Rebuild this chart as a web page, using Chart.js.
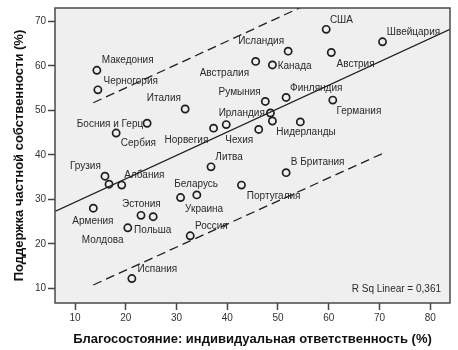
<!DOCTYPE html>
<html>
<head>
<meta charset="utf-8">
<script src="https://cdn.jsdelivr.net/npm/chart.js@4.4.1/dist/chart.umd.min.js"></script>
<style>
  body { margin: 0; background: #fff; }
  #wrap { width: 458px; height: 350px; }
</style>
</head>
<body>
<div id="wrap"><canvas id="chart" width="458" height="350"></canvas></div>
<script>
const countries = [
  "Македония", "Черногория", "Италия", "Босния и Герц", "Сербия", "Грузия", "", "Албания",
  "Армения", "Эстония", "", "Польша", "Испания", "Беларусь", "Украина", "Россия",
  "Литва", "Португалия", "В Британия", "Норвегия", "Чехия", "", "Ирландия", "",
  "Нидерланды", "Румыния", "Финляндия", "Австралия", "Канада", "Исландия", "США", "Австрия",
  "Швейцария", "Германия"
];
const wellbeing = [
  14.3, 14.5, 31.7, 24.2, 18.1, 15.9, 16.7, 19.2,
  13.6, 23.0, 25.4, 20.4, 21.2, 30.8, 34.0, 32.7,
  36.8, 42.8, 51.6, 37.3, 39.8, 46.2, 48.5, 48.9,
  54.4, 47.5, 51.6, 45.6, 48.9, 52.0, 59.5, 60.5,
  70.6, 60.8
];
const support = [
  59.0, 54.6, 50.3, 47.1, 44.9, 35.2, 33.4, 33.2,
  28.0, 26.4, 26.1, 23.6, 12.2, 30.4, 31.0, 21.8,
  37.3, 33.2, 36.0, 46.0, 46.8, 45.7, 49.4, 47.6,
  47.4, 52.0, 52.9, 61.0, 60.2, 63.3, 68.2, 63.0,
  65.4, 52.3
];

// fit line and the two dashed bounds, ends
const fitX = [6.05, 83.9];
const fitY = [27.3, 68.2];
const upperX = [13.6, 70.6];
const upperY = [51.7, 81.6];
const lowerX = [13.6, 70.6];
const lowerY = [10.75, 40.3];

const xTicks = [10, 20, 30, 40, 50, 60, 70, 80];
const yTicks = [10, 20, 30, 40, 50, 60, 70];
const rSqText = "R Sq Linear = 0,361";

// label placement, pixels from the point (left edge, middle)
const labelOffsets = [
  [5, -10], [5.6, -9], [-38.3, -10.7], [-70.3, 0.7], [4.7, 10.7], [-35, -9.5], null, [2.6, -9.6],
  [-21, 13], [-19, -11], null, [6.3, 2.3], [5.7, -9.4], [-6.3, -13.3], [-11.7, 14], [4.7, -9.3],
  [4.3, -10], [5.4, 11.3], [4.7, -10], [-49, 12], [-1, 15.7], null, [-51.7, 0.7], null,
  [-24, 10], [-46.7, -9.6], [4, -9.3], [-56, 11.6], [5.3, 1], [-50, -10], [3.7, -9], [5.3, 11.6],
  [4.3, -9.4], [3.7, 11.3]
];
const extraLabels = [["Молдова", 8, -11.6, 32.3]];

const toPts = (xs, ys) => xs.map((x, i) => ({ x, y: ys[i] }));
const FONT = "'Liberation Sans', Arial, sans-serif";

const plotDecor = {
  id: "plotDecor",
  beforeDraw(chart) {
    const { ctx, chartArea: a } = chart;
    ctx.save();
    ctx.fillStyle = "#efefef";
    ctx.fillRect(a.left, a.top, a.right - a.left, a.bottom - a.top);
    ctx.restore();
  },
  beforeDatasetsDraw(chart) {
    const { ctx } = chart;
    const xs = chart.scales.x, ys = chart.scales.y;
    ctx.save();
    ctx.font = "10px " + FONT;
    ctx.fillStyle = "#2a2a2a";
    ctx.textAlign = "left";
    ctx.textBaseline = "middle";
    countries.forEach((name, i) => {
      if (!name || !labelOffsets[i]) return;
      const px = xs.getPixelForValue(wellbeing[i]);
      const py = ys.getPixelForValue(support[i]);
      ctx.fillText(name, px + labelOffsets[i][0], py + labelOffsets[i][1]);
    });
    extraLabels.forEach(([name, i, dx, dy]) => {
      const px = xs.getPixelForValue(wellbeing[i]);
      const py = ys.getPixelForValue(support[i]);
      ctx.fillText(name, px + dx, py + dy);
    });
    ctx.restore();
  },
  afterDraw(chart) {
    const { ctx, chartArea: a } = chart;
    ctx.save();
    ctx.strokeStyle = "#4a4a4a";
    ctx.lineWidth = 1.5;
    ctx.strokeRect(a.left, a.top, a.right - a.left, a.bottom - a.top);
    ctx.font = "10px " + FONT;
    ctx.fillStyle = "#2a2a2a";
    ctx.textAlign = "right";
    ctx.textBaseline = "middle";
    ctx.fillText(rSqText, a.right - 9, a.bottom - 14);
    ctx.restore();
  }
};

const lineStyle = {
  showLine: true,
  pointRadius: 0,
  borderColor: "#1e1e1e",
  borderWidth: 1.3,
  fill: false
};

new Chart(document.getElementById("chart"), {
  type: "scatter",
  data: {
    datasets: [
      {
        data: toPts(wellbeing, support),
        pointRadius: 3.6,
        pointBorderWidth: 1.7,
        borderColor: "#1e1e1e",
        backgroundColor: "rgba(0,0,0,0)"
      },
      Object.assign({ data: toPts(fitX, fitY) }, lineStyle),
      Object.assign({ data: toPts(upperX, upperY), borderDash: [9, 5] }, lineStyle),
      Object.assign({ data: toPts(lowerX, lowerY), borderDash: [9, 5] }, lineStyle)
    ]
  },
  options: {
    responsive: false,
    animation: false,
    layout: { padding: { top: 2, right: 8, left: 0, bottom: 0 } },
    plugins: { legend: { display: false }, tooltip: { enabled: false } },
    scales: {
      x: {
        type: "linear",
        min: 6.05,
        max: 83.9,
        afterBuildTicks: (s) => { s.ticks = xTicks.map((v) => ({ value: v })); },
        afterFit: (s) => { s.height = 47; },
        grid: { drawOnChartArea: false, color: "#444", tickLength: 7, tickWidth: 1.5 },
        border: { display: false },
        ticks: { color: "#333", padding: 2, font: { size: 10, family: FONT } },
        title: {
          display: true,
          text: "Благосостояние: индивидуальная ответственность (%)",
          color: "#111",
          padding: { top: 0, bottom: 3 },
          font: { size: 13, weight: "bold", family: FONT }
        }
      },
      y: {
        type: "linear",
        min: 6.7,
        max: 73,
        afterBuildTicks: (s) => { s.ticks = yTicks.map((v) => ({ value: v })); },
        afterFit: (s) => { s.width = 55; },
        grid: { drawOnChartArea: false, color: "#444", tickLength: 7, tickWidth: 1.5 },
        border: { display: false },
        ticks: { color: "#333", padding: 2, font: { size: 10, family: FONT } },
        title: {
          display: true,
          text: "Поддержка частной собственности (%)",
          color: "#111",
          padding: { top: 12, bottom: 0 },
          font: { size: 13, weight: "bold", family: FONT }
        }
      }
    }
  },
  plugins: [plotDecor]
});
</script>
</body>
</html>
